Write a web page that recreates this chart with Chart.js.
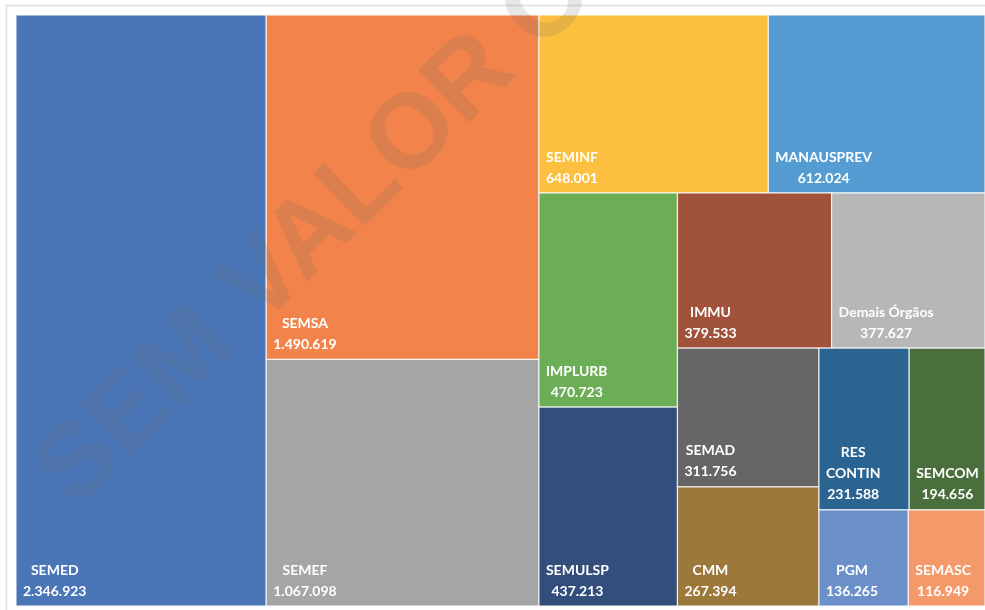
<!DOCTYPE html>
<html>
<head>
<meta charset="utf-8">
<script src="https://cdn.jsdelivr.net/npm/chart.js@4.4.1/dist/chart.umd.min.js"></script>
<style>
  html, body { margin: 0; padding: 0; background: #ffffff; }
  #wrap { width: 985px; height: 610px; position: relative; }
</style>
</head>
<body>
<div id="wrap"><canvas id="c"></canvas></div>
<script>
// ---- data ----
const categories = ['SEMED', 'SEMSA', 'SEMEF', 'SEMINF', 'MANAUSPREV', 'IMPLURB', 'SEMULSP',
  'IMMU', 'Demais Órgãos', 'SEMAD', 'CMM', 'RES CONTIN', 'SEMCOM', 'PGM', 'SEMASC'];
const values = [2346923, 1490619, 1067098, 648001, 612024, 470723, 437213,
  379533, 377627, 311756, 267394, 231588, 194656, 136265, 116949];
const palette = ['#4A76B8', '#F2834A', '#A5A5A5', '#FCBF3F', '#559CD2', '#6CAE55', '#334E7B',
  '#A0523A', '#B7B7B7', '#666666', '#9C783A', '#2B6391', '#4B6E3D', '#6A8FC9', '#F49A6A'];

// treemap laid out in data space of the scales (x: 0..200, y: 0..100)
const X_MAX = 200, Y_MAX = 100;

function worst(row, side) {
  const s = row.reduce((a, b) => a + b, 0);
  const mx = Math.max(...row), mn = Math.min(...row);
  return Math.max(side * side * mx / (s * s), (s * s) / (side * side * mn));
}
function squarify(vals, x, y, w, h) {
  const total = vals.reduce((a, b) => a + b, 0);
  const areas = vals.map(v => v * w * h / total);
  const rects = [];
  let i = 0;
  while (i < areas.length) {
    const side = Math.min(w, h);
    let row = [areas[i]];
    let j = i + 1;
    while (j < areas.length) {
      const cand = row.concat(areas[j]);
      if (worst(cand, side) <= worst(row, side)) { row = cand; j++; } else break;
    }
    const s = row.reduce((a, b) => a + b, 0);
    if (w >= h) {
      const cw = s / h; let yy = y;
      row.forEach(a => { const rh = a / cw; rects.push({ x0: x, x1: x + cw, y0: yy, y1: yy + rh }); yy += rh; });
      x += cw; w -= cw;
    } else {
      const rh = s / w; let xx = x;
      row.forEach(a => { const rw = a / rh; rects.push({ x0: xx, x1: xx + rw, y0: y, y1: y + rh }); xx += rw; });
      y += rh; h -= rh;
    }
    i = j;
  }
  return rects;
}
function fmt(v) { return String(v).replace(/\B(?=(\d{3})+(?!\d))/g, '.'); }

const rects = squarify(values, 0, 0, X_MAX, Y_MAX);
const cells = rects.map((r, k) => ({
  x: (r.x0 + r.x1) / 2, y: (r.y0 + r.y1) / 2,
  x0: r.x0, x1: r.x1, y0: r.y0, y1: r.y1,
  label: categories[k], value: values[k], color: palette[k]
}));

const LABEL_FONT = 'bold 14px Lato, "Open Sans", sans-serif';

const frame = {
  id: 'frame',
  beforeDraw(chart) {
    const ctx = chart.ctx;
    ctx.save();
    ctx.fillStyle = '#ffffff';
    ctx.fillRect(0, 0, chart.width, chart.height);
    ctx.strokeStyle = '#dedede';
    ctx.lineWidth = 1.5;
    ctx.strokeRect(6.5, 5.5, chart.width + 20, chart.height + 20);
    ctx.restore();
  }
};

const treemapCells = {
  id: 'treemapCells',
  afterDatasetsDraw(chart) {
    const ctx = chart.ctx;
    const xs = chart.scales.x, ys = chart.scales.y;
    const data = chart.data.datasets[0].data;
    ctx.save();
    data.forEach(c => {
      const l = xs.getPixelForValue(c.x0), r = xs.getPixelForValue(c.x1);
      const t = ys.getPixelForValue(c.y0), b = ys.getPixelForValue(c.y1);
      ctx.fillStyle = c.color;
      ctx.fillRect(l, t, r - l, b - t);
      ctx.strokeStyle = 'rgba(255,255,255,0.8)';
      ctx.lineWidth = 1.2;
      ctx.strokeRect(l, t, r - l, b - t);
    });
    // watermark
    const ca = chart.chartArea;
    ctx.save();
    ctx.translate(ca.left + 59, ca.top + 495);
    ctx.rotate(-44.5 * Math.PI / 180);
    ctx.font = 'bold 106px "Liberation Sans", Arial, sans-serif';
    ctx.fillStyle = 'rgba(105,105,105,0.16)';
    ctx.textBaseline = 'alphabetic';
    ctx.fillText('SEM VALOR OFICIAL', 0, 0);
    ctx.restore();
    // labels
    ctx.font = LABEL_FONT;
    ctx.fillStyle = '#ffffff';
    ctx.textAlign = 'center';
    ctx.textBaseline = 'middle';
    data.forEach(c => {
      const l = xs.getPixelForValue(c.x0), r = xs.getPixelForValue(c.x1);
      const b = ys.getPixelForValue(c.y1);
      let lines = [c.label];
      if (ctx.measureText(c.label).width > (r - l) - 14 && c.label.indexOf(' ') > 0) {
        lines = c.label.split(' ');
      }
      lines.push(fmt(c.value));
      const bw = Math.max(...lines.map(s => ctx.measureText(s).width));
      const cx = l + 7 + bw / 2;
      const lh = 21;
      lines.forEach((s, k) => {
        const yy = b - 15 - (lines.length - 1 - k) * lh;
        ctx.fillText(s, cx, yy);
      });
    });
    ctx.restore();
  }
};

new Chart(document.getElementById('c'), {
  type: 'scatter',
  data: {
    datasets: [{
      data: cells,
      pointRadius: 0,
      pointHoverRadius: 0,
      showLine: false
    }]
  },
  options: {
    responsive: true,
    maintainAspectRatio: false,
    animation: false,
    layout: { padding: { left: 16, top: 15, right: 0, bottom: 4 } },
    plugins: { legend: { display: false }, tooltip: { enabled: false } },
    scales: {
      x: { type: 'linear', min: 0, max: X_MAX, display: false },
      y: { type: 'linear', min: 0, max: Y_MAX, reverse: true, display: false }
    }
  },
  plugins: [frame, treemapCells]
});
</script>
</body>
</html>
